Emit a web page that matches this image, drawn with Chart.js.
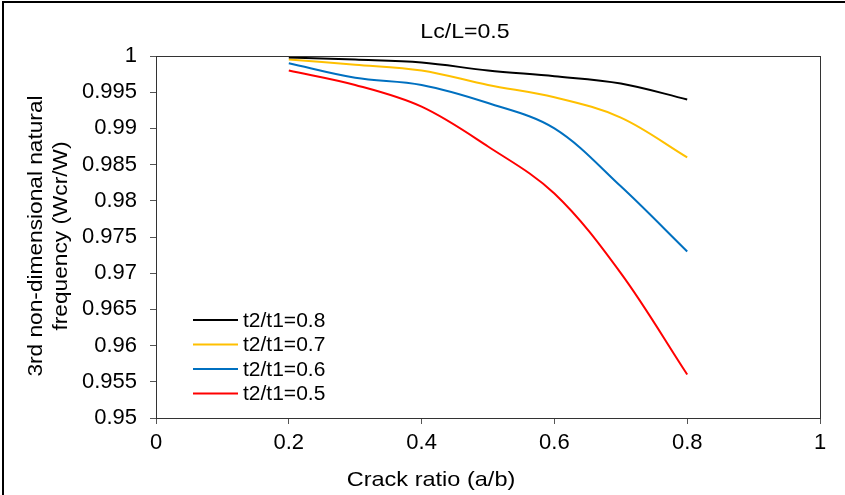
<!DOCTYPE html>
<html>
<head>
<meta charset="utf-8">
<script src="https://cdn.jsdelivr.net/npm/chart.js@4/dist/chart.umd.min.js"></script>
<style>
  html, body { margin: 0; padding: 0; background: #fff; }
  #wrap { width: 845px; height: 495px; position: relative; }
</style>
</head>
<body>
<div id="wrap"><canvas id="freqChart"></canvas></div>
<script>
// crack ratio a/b
const crackRatio = [0.2, 0.3, 0.4, 0.5, 0.6, 0.7, 0.8];

// 3rd natural frequency ratio Wcr/W for each thickness ratio
const t2t1_08 = [0.9998, 0.9995, 0.9991, 0.9980, 0.9972, 0.9962, 0.9940];
const t2t1_07 = [0.9995, 0.9988, 0.9980, 0.9960, 0.9943, 0.9915, 0.9860];
const t2t1_06 = [0.9990, 0.9970, 0.9960, 0.9935, 0.9900, 0.9820, 0.9730];
const t2t1_05 = [0.9980, 0.9960, 0.9930, 0.9875, 0.9810, 0.9700, 0.9560];

const seriesLabels = ['t2/t1=0.8', 't2/t1=0.7', 't2/t1=0.6', 't2/t1=0.5'];
const seriesColors = ['#000000', '#FFC000', '#0070C0', '#FF0000'];

const chartTitle = 'Lc/L=0.5';
const xTitle = 'Crack ratio (a/b)';
const yTitle = ['3rd non-dimensional natural', 'frequency (Wcr/W)'];

const FONT = '"Liberation Sans", Arial, sans-serif';

function toPoints(vals) {
    return crackRatio.map(function (x, i) { return { x: x, y: vals[i] }; });
}

const allSeries = [t2t1_08, t2t1_07, t2t1_06, t2t1_05];

const datasets = allSeries.map(function (vals, i) {
    return {
        label: seriesLabels[i],
        data: toPoints(vals),
        borderColor: seriesColors[i],
        backgroundColor: seriesColors[i],
        borderWidth: 2,
        pointRadius: 0,
        tension: 0.35,
        fill: false
    };
});

// text drawn a little wider than the font's own proportions
function wideText(ctx, text, x, y, sx) {
    ctx.save();
    ctx.translate(x, y);
    ctx.scale(sx, 1);
    ctx.fillText(text, 0, 0);
    ctx.restore();
}

// frame, plot border, titles and the inset legend
const decorations = {
    id: 'decorations',
    afterDraw: function (chart) {
        const ctx = chart.ctx;
        const a = chart.chartArea;
        ctx.save();

        // outer frame
        ctx.strokeStyle = '#000';
        ctx.lineWidth = 2;
        ctx.strokeRect(3, 2, 900, 600);

        // plot border
        ctx.strokeStyle = '#333';
        ctx.lineWidth = 1;
        ctx.strokeRect(Math.round(a.left) + 0.5, Math.round(a.top) + 0.5,
            Math.round(a.right - a.left), Math.round(a.bottom - a.top));

        ctx.fillStyle = '#000';
        ctx.textAlign = 'center';
        ctx.textBaseline = 'middle';

        ctx.font = '21px ' + FONT;
        wideText(ctx, chartTitle, 465, 32, 1.1);
        wideText(ctx, xTitle, 431, 480, 1.12);

        ctx.save();
        ctx.translate(36, 236);
        ctx.rotate(-Math.PI / 2);
        ctx.scale(1.08, 1);
        ctx.fillText(yTitle[0], 0, 0);
        ctx.fillText(yTitle[1], 0, 25);
        ctx.restore();

        // legend
        ctx.font = '20px ' + FONT;
        ctx.textAlign = 'left';
        chart.data.datasets.forEach(function (ds, i) {
            const y = 320 + i * 24.5;
            ctx.strokeStyle = ds.borderColor;
            ctx.lineWidth = 2;
            ctx.beginPath();
            ctx.moveTo(193, y);
            ctx.lineTo(238, y);
            ctx.stroke();
            ctx.fillStyle = '#000';
            wideText(ctx, ds.label, 243, y + 1, 1.05);
        });

        ctx.restore();
    }
};

new Chart(document.getElementById('freqChart'), {
    type: 'line',
    data: { datasets: datasets },
    plugins: [decorations],
    options: {
        responsive: true,
        maintainAspectRatio: false,
        animation: false,
        layout: { padding: { left: 0, top: 56, right: 25, bottom: 0 } },
        plugins: {
            legend: { display: false },
            title: { display: false },
            tooltip: { enabled: false }
        },
        scales: {
            x: {
                type: 'linear',
                min: 0,
                max: 1,
                afterFit: function (scale) { scale.height = 77; },
                grid: {
                    drawOnChartArea: false,
                    drawTicks: true,
                    tickLength: 6,
                    color: '#555'
                },
                border: { display: true, color: '#333' },
                ticks: {
                    stepSize: 0.2,
                    padding: 6,
                    color: '#000',
                    font: { family: FONT, size: 22 },
                    maxRotation: 0,
                    callback: function (v) { return String(+v.toFixed(1)); }
                }
            },
            y: {
                type: 'linear',
                min: 0.95,
                max: 1,
                afterFit: function (scale) { scale.width = 156; },
                grid: {
                    drawOnChartArea: false,
                    drawTicks: true,
                    tickLength: 6,
                    color: '#555'
                },
                border: { display: true, color: '#333' },
                ticks: {
                    stepSize: 0.005,
                    padding: 13,
                    color: '#000',
                    font: { family: FONT, size: 22 },
                    callback: function (v) { return String(+v.toFixed(3)); }
                }
            }
        }
    }
});
</script>
</body>
</html>
